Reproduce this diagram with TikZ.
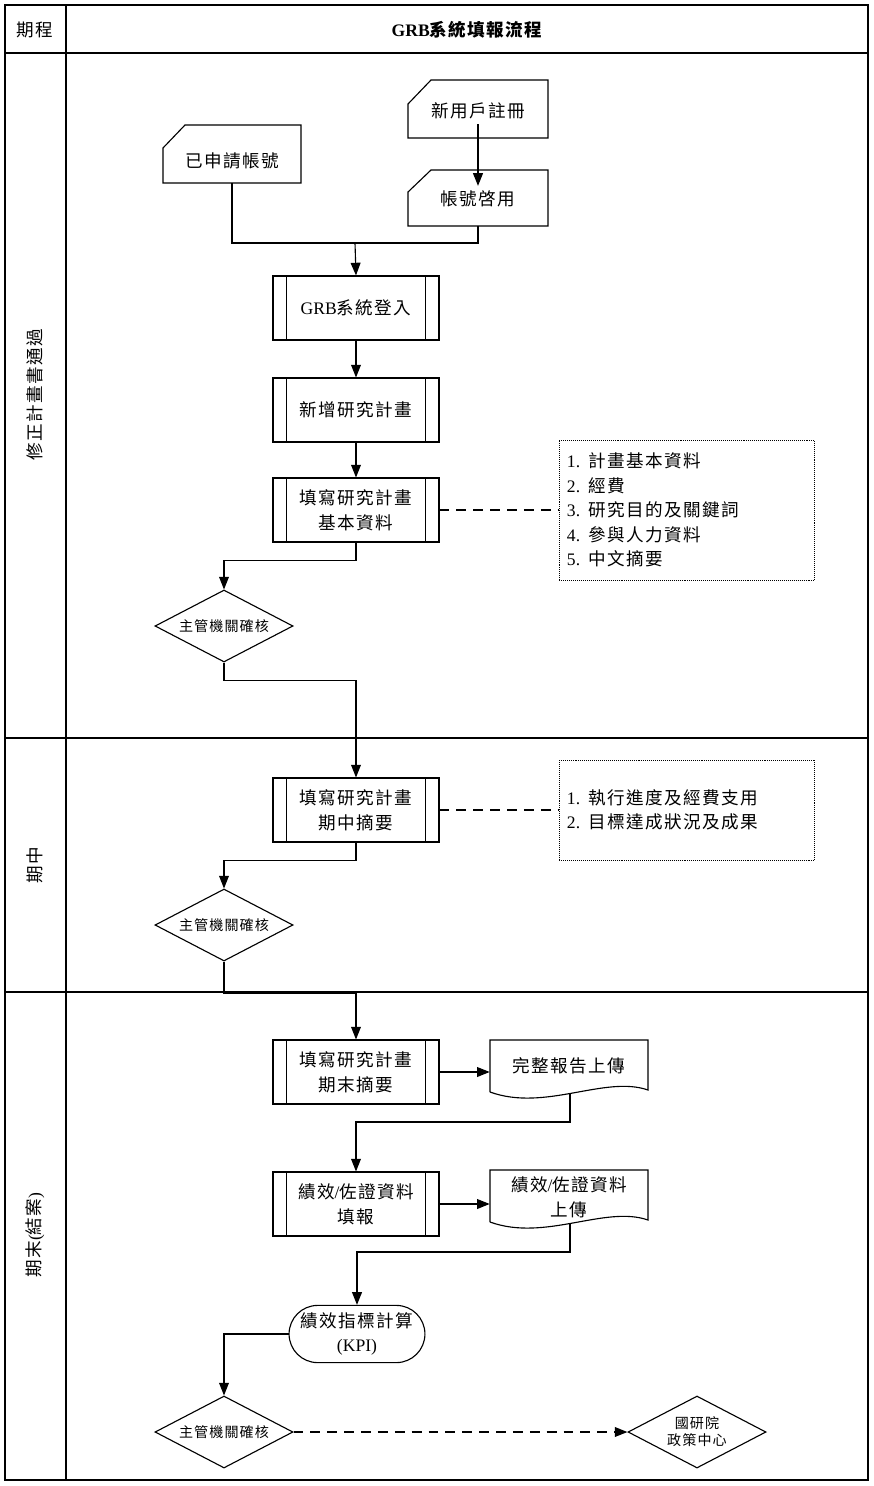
\documentclass[tikz,border=0pt]{standalone}
\usepackage{fontspec}
\setmainfont{Liberation Serif}
\newfontfamily\cjk[LetterSpace=8]{Noto Sans CJK TC}
\newfontfamily\lat{Liberation Serif}
\usetikzlibrary{arrows.meta,shapes.geometric,shapes.misc,positioning}

\tikzset{
  every node/.style={font=\cjk\fontsize{12.5}{17.5}\selectfont},
  proc/.style={draw, thick, minimum width=4.15cm, minimum height=1.6cm, align=center,
    path picture={
      \draw[thick] ([xshift=0.33cm]path picture bounding box.north west) -- ([xshift=0.33cm]path picture bounding box.south west);
      \draw[thick] ([xshift=-0.33cm]path picture bounding box.north east) -- ([xshift=-0.33cm]path picture bounding box.south east);}},
  check/.style={draw, thick, diamond, aspect=1.92, minimum width=3.45cm, minimum height=1.8cm, inner sep=0pt,
    font=\cjk\fontsize{10}{12}\selectfont, align=center},
  note/.style={draw, densely dotted, minimum width=6.375cm, minimum height=3.5cm, text width=6cm, align=left},
  arr/.style={thick, -{Triangle[length=9pt,width=7pt]}},
  link/.style={thick, dash pattern=on 7pt off 5pt}
}

\begin{document}
\begin{tikzpicture}[x=0.025cm,y=-0.025cm]
  \useasboundingbox (0,0) rectangle (874,1486);

  % table frame
  \draw[thick] (5,5) rectangle (868,1480);
  \draw[thick] (5,53) -- (868,53);
  \draw[thick] (66,5) -- (66,1480);
  \draw[thick] (5,738) -- (868,738);
  \draw[thick] (5,992) -- (868,992);
  \node (hphase) at (35,30) {期程};
  \node (htitle) at (467,30) {\bfseries\lat GRB\cjk 系統填報流程};
  \node[rotate=90] (p1) at (35,395) {修正計畫書通過};
  \node[rotate=90] (p2) at (35,865) {期中};
  \node[rotate=90] (p3) at (35,1235) {期末\lat(\cjk 結案\lat)};

  % manual inputs
  \node (old) at (232,161) {已申請帳號};
  \draw[thick] (163,148) -- (185,125) -- (301,125) -- (301,183) -- (163,183) -- cycle;
  \node (new) at (478,111) {新用戶註冊};
  \draw[thick] (408,104) -- (431,80) -- (548,80) -- (548,138) -- (408,138) -- cycle;
  \node (act) at (478,199) {帳號啓用};
  \draw[thick] (408,192) -- (431,170) -- (548,170) -- (548,226) -- (408,226) -- cycle;
  \coordinate (join) at (355,243);

  % processes
  \node[proc] (login) at (356,308) {\lat GRB\cjk 系統登入};
  \node[proc] (newplan) at (356,410) {新增研究計畫};
  \node[proc] (fill1) at (356,510) {填寫研究計畫\\基本資料};
  \node[note] (note1) at (687,510) {\lat 1. \cjk 計畫基本資料\\\lat 2. \cjk 經費\\\lat 3. \cjk 研究目的及關鍵詞\\\lat 4. \cjk 參與人力資料\\\lat 5. \cjk 中文摘要};
  \node[check] (chk1) at (224,626) {主管機關確核};

  \node[proc] (fill2) at (356,810) {填寫研究計畫\\期中摘要};
  \node[note, minimum height=2.5cm] (note2) at (687,810) {\lat 1. \cjk 執行進度及經費支用\\\lat 2. \cjk 目標達成狀況及成果};
  \node[check] (chk2) at (224,925) {主管機關確核};

  \node[proc] (fill3) at (356,1072) {填寫研究計畫\\期末摘要};
  \node[minimum width=3.95cm, minimum height=1.3cm] (doc1) at (569,1066) {完整報告上傳};
  \draw[thick] (490,1092) -- (490,1040) -- (648,1040) -- (648,1090) .. controls (605,1075) and (545,1112) .. (490,1092);
  \coordinate (d1t) at (570,1094);
  \node[proc] (perf) at (356,1204) {績效\lat/\cjk 佐證資料\\填報};
  \node[minimum width=3.95cm, minimum height=1.3cm, align=center] (doc2) at (569,1197) {績效\lat/\cjk 佐證資料\\上傳};
  \draw[thick] (490,1222) -- (490,1170) -- (648,1170) -- (648,1220) .. controls (605,1205) and (545,1242) .. (490,1222);
  \coordinate (d2t) at (570,1224);
  \node[draw, thick, rounded rectangle, minimum width=3.63cm, minimum height=1.43cm, align=center] (kpi) at (357,1334) {績效指標計算\\\lat(KPI)};
  \node[check] (chk3) at (224,1432) {主管機關確核};
  \node[check] (nar) at (697,1432) {國研院\\政策中心};

  % connectors
  \draw[arr] (new) -- (act);
  \draw[thick] (old.south |- 0,183) |- (join);
  \draw[thick] (act.south |- 0,226) |- (join);
  \draw[arr] (join) -- (login.north);
  \draw[arr] (login) -- (newplan);
  \draw[arr] (newplan) -- (fill1);
  \draw[link] (fill1) -- (note1);
  \draw[arr] (fill1.south) -- ++(0,18) -| (chk1.north);
  \draw[arr] (chk1.south) -- ++(0,18) -| (fill2.north);
  \draw[link] (fill2) -- (note2);
  \draw[arr] (fill2.south) -- ++(0,18) -| (chk2.north);
  \draw[arr] (chk2.south) -- ++(0,32) -| (fill3.north);
  \draw[arr] (fill3.east) -- (doc1.west |- fill3.east);
  \draw[arr] (d1t) -- ++(0,28) -| (perf.north);
  \draw[arr] (perf.east) -- (doc2.west |- perf.east);
  \draw[arr] (d2t) -- ++(0,28) -| (kpi.north);
  \draw[arr] (kpi.west) -| (chk3.north);
  \draw[arr, link] (chk3) -- (nar);
\end{tikzpicture}
\end{document}
